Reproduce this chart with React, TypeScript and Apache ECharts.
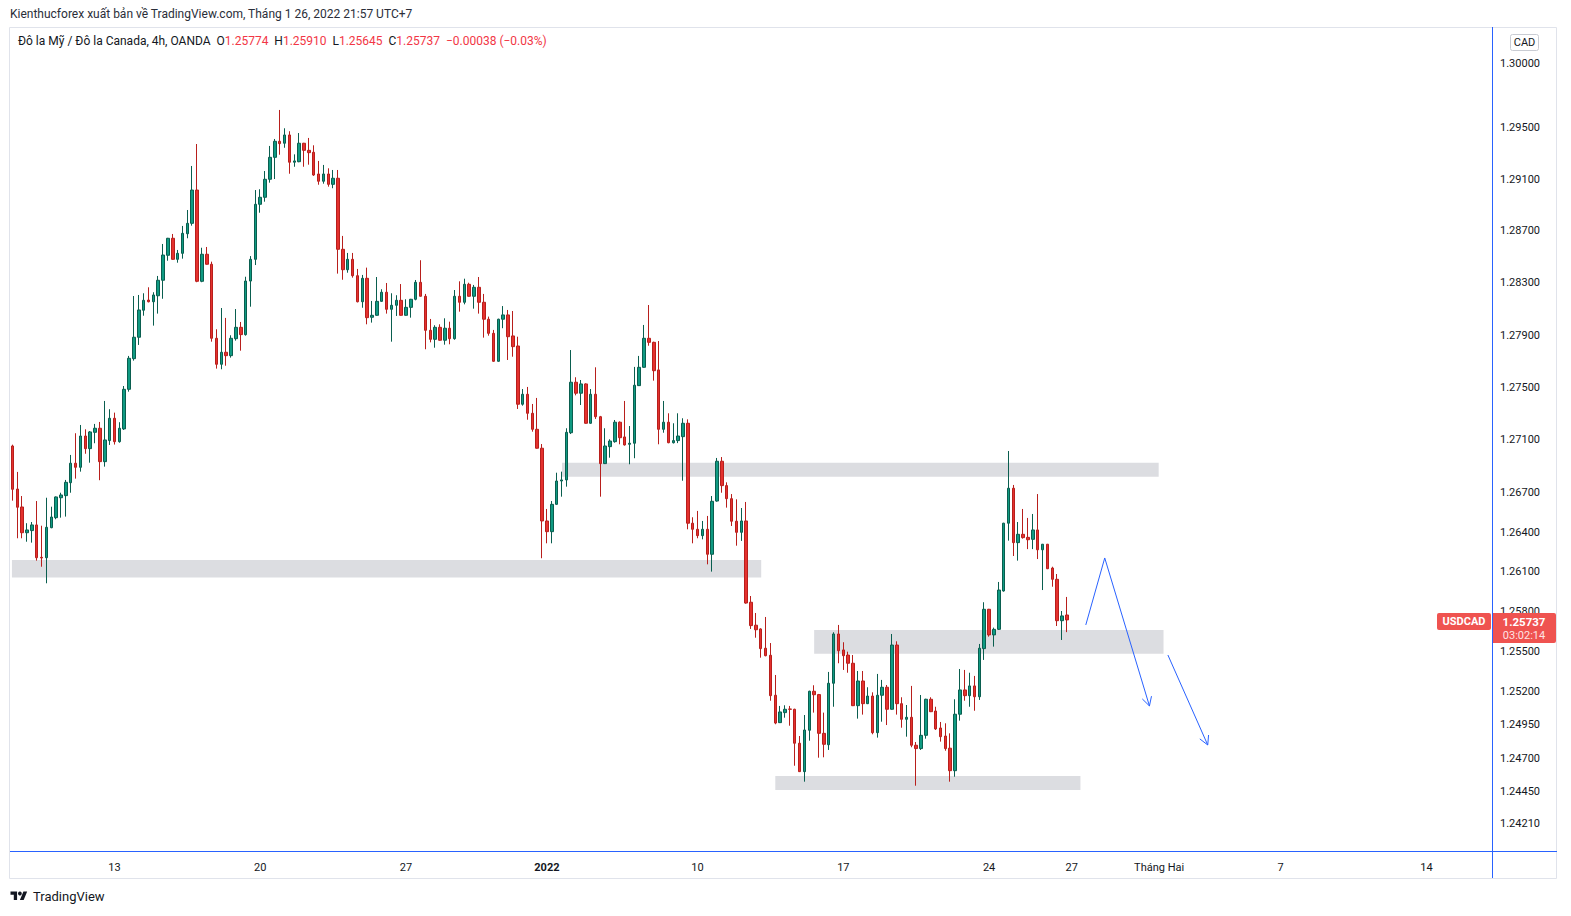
import React, { useEffect, useRef } from "react";
import * as echarts from "echarts";

// ---- OHLC data (USDCAD, 4h) ----
const OPEN = [
  1.27053, 1.26726, 1.2659, 1.26395, 1.26411, 1.26454, 1.26209, 1.26206, 1.26433, 1.26509,
  1.2666, 1.26676, 1.26774, 1.26922, 1.26891, 1.27129, 1.27033, 1.27157, 1.27188, 1.26934,
  1.27094, 1.27264, 1.27086, 1.27183, 1.27485, 1.27719, 1.27883, 1.2809, 1.28168, 1.28155,
  1.28201, 1.2832, 1.28512, 1.28643, 1.28481, 1.28527, 1.28678, 1.28758, 1.29015, 1.28312,
  1.2852, 1.28443, 1.27875, 1.27676, 1.27768, 1.27742, 1.27872, 1.27959, 1.27903, 1.28314,
  1.28481, 1.28905, 1.28959, 1.29098, 1.29268, 1.29392, 1.29377, 1.29441, 1.2923, 1.29234,
  1.29377, 1.29322, 1.29307, 1.29139, 1.29083, 1.29139, 1.29059, 1.29106, 1.28558, 1.28401,
  1.28481, 1.28355, 1.28155, 1.28335, 1.28036, 1.28051, 1.28158, 1.28228, 1.28097, 1.28128,
  1.28166, 1.28051, 1.28112, 1.28174, 1.28304, 1.28197, 1.27936, 1.27867, 1.27959, 1.2786,
  1.27952, 1.27872, 1.28197, 1.28151, 1.28289, 1.28197, 1.28266, 1.28151, 1.28021, 1.27913,
  1.27699, 1.28021, 1.28054, 1.27893, 1.27816, 1.27371, 1.27447, 1.27302, 1.2718, 1.27036,
  1.26484, 1.26403, 1.2661, 1.26787, 1.26795, 1.27154, 1.27539, 1.27455, 1.27526, 1.27226,
  1.27447, 1.27276, 1.26919, 1.27048, 1.27086, 1.27234, 1.27122, 1.27066, 1.27074, 1.27513,
  1.27653, 1.27875, 1.27844, 1.27633, 1.2718, 1.27234, 1.27078, 1.27094, 1.27124, 1.27226,
  1.26467, 1.26421, 1.26373, 1.26421, 1.26232, 1.26635, 1.26937, 1.26752, 1.26653, 1.26482,
  1.26398, 1.26484, 1.2587, 1.25697, 1.25669, 1.25524, 1.25471, 1.25171, 1.24966, 1.25041,
  1.25068, 1.25066, 1.24812, 1.246, 1.24909, 1.25201, 1.25176, 1.24886, 1.24801, 1.25261,
  1.25631, 1.25511, 1.25473, 1.25411, 1.25093, 1.25278, 1.25108, 1.25165, 1.24891, 1.25171,
  1.25231, 1.25066, 1.25548, 1.25108, 1.24991, 1.25006, 1.24797, 1.24772, 1.24871, 1.25141,
  1.25053, 1.24926, 1.24866, 1.24775, 1.24607, 1.25029, 1.25211, 1.25168, 1.25241, 1.2516,
  1.25521, 1.25817, 1.25624, 1.25666, 1.25955, 1.26467, 1.26732, 1.2632, 1.26383, 1.2636,
  1.26345, 1.26416, 1.26266, 1.26308, 1.26128, 1.26043, 1.25731, 1.25774,
];
const HIGH = [
  1.27063, 1.26856, 1.26673, 1.26467, 1.26476, 1.26635, 1.26448, 1.2666, 1.26592, 1.2667,
  1.26698, 1.26795, 1.26985, 1.2715, 1.27213, 1.2718, 1.27167, 1.27221, 1.27236, 1.27396,
  1.27333, 1.27307, 1.27234, 1.2751, 1.2774, 1.28199, 1.28207, 1.2822, 1.28266, 1.28228,
  1.28353, 1.28599, 1.28646, 1.28676, 1.28553, 1.28738, 1.28861, 1.29201, 1.29371, 1.2857,
  1.28576, 1.28463, 1.27944, 1.28107, 1.28031, 1.27898, 1.28099, 1.28, 1.28347, 1.28506,
  1.29015, 1.29021, 1.29162, 1.29356, 1.2941, 1.29635, 1.29493, 1.2947, 1.29291, 1.29456,
  1.2938, 1.29418, 1.29361, 1.2924, 1.29209, 1.29183, 1.2917, 1.2917, 1.28661, 1.2853,
  1.2853, 1.28407, 1.28361, 1.28417, 1.28161, 1.28345, 1.28251, 1.28299, 1.2822, 1.28205,
  1.28291, 1.28174, 1.28177, 1.28322, 1.28474, 1.28215, 1.28023, 1.27975, 1.27982, 1.28028,
  1.28002, 1.28245, 1.28312, 1.28332, 1.28301, 1.28284, 1.28345, 1.28215, 1.28041, 1.27939,
  1.28025, 1.28122, 1.28092, 1.28084, 1.27887, 1.27487, 1.27503, 1.27373, 1.27419, 1.27068,
  1.26575, 1.26635, 1.2685, 1.26858, 1.27188, 1.27785, 1.27577, 1.27556, 1.27531, 1.27487,
  1.27653, 1.27282, 1.27188, 1.27104, 1.27251, 1.2724, 1.27396, 1.27205, 1.27656, 1.2774,
  1.27977, 1.2813, 1.27849, 1.27854, 1.27396, 1.27302, 1.27226, 1.27302, 1.27264, 1.27256,
  1.26512, 1.2656, 1.26484, 1.26522, 1.26673, 1.26962, 1.26969, 1.26777, 1.26688, 1.26648,
  1.26582, 1.26628, 1.25917, 1.25789, 1.25674, 1.25759, 1.25563, 1.25323, 1.25091, 1.25096,
  1.25091, 1.2507, 1.24866, 1.25023, 1.25205, 1.25246, 1.25181, 1.25041, 1.25346, 1.25644,
  1.25699, 1.25569, 1.25498, 1.25473, 1.25353, 1.25353, 1.25231, 1.25193, 1.25331, 1.25286,
  1.25248, 1.25631, 1.25576, 1.25156, 1.25098, 1.25241, 1.24821, 1.25173, 1.25145, 1.25156,
  1.25085, 1.24971, 1.24961, 1.24886, 1.25141, 1.25368, 1.25361, 1.2534, 1.25316, 1.25556,
  1.2587, 1.2582, 1.25679, 1.26023, 1.2647, 1.27015, 1.26757, 1.26476, 1.26575, 1.26507,
  1.26537, 1.26688, 1.2631, 1.2631, 1.26138, 1.26083, 1.25804, 1.2591,
];
const LOW = [
  1.26638, 1.26353, 1.26353, 1.26327, 1.2632, 1.26184, 1.26138, 1.26013, 1.26429, 1.26497,
  1.26509, 1.26517, 1.26698, 1.26805, 1.26858, 1.26994, 1.26926, 1.27074, 1.26793, 1.26896,
  1.27061, 1.27064, 1.27078, 1.27175, 1.27467, 1.27704, 1.27824, 1.28048, 1.2815, 1.27972,
  1.28064, 1.28178, 1.2847, 1.28478, 1.28455, 1.28486, 1.28643, 1.2874, 1.28305, 1.28305,
  1.2844, 1.27849, 1.27643, 1.27638, 1.27665, 1.27727, 1.27857, 1.2778, 1.27895, 1.28117,
  1.28437, 1.2884, 1.28925, 1.29072, 1.291, 1.29288, 1.29342, 1.29141, 1.29195, 1.2923,
  1.29195, 1.29211, 1.29124, 1.29056, 1.29064, 1.29041, 1.29029, 1.28371, 1.28324, 1.28378,
  1.2834, 1.2815, 1.28109, 1.27982, 1.27995, 1.28048, 1.28155, 1.28064, 1.27849, 1.28046,
  1.28048, 1.28048, 1.28033, 1.28166, 1.28195, 1.27791, 1.27844, 1.27803, 1.27857, 1.27826,
  1.27829, 1.27864, 1.28079, 1.28135, 1.28194, 1.28102, 1.28064, 1.2788, 1.27895, 1.27695,
  1.27695, 1.27952, 1.27709, 1.27734, 1.27335, 1.2736, 1.27253, 1.27162, 1.27033, 1.26202,
  1.26315, 1.26315, 1.26607, 1.26668, 1.26744, 1.27144, 1.27439, 1.27365, 1.27223, 1.27223,
  1.27259, 1.26668, 1.26916, 1.26964, 1.27078, 1.27066, 1.27056, 1.26914, 1.2696, 1.2751,
  1.2765, 1.27818, 1.27551, 1.27066, 1.27154, 1.27074, 1.27072, 1.27075, 1.26789, 1.26421,
  1.26315, 1.26353, 1.26345, 1.26156, 1.26101, 1.2663, 1.26698, 1.26585, 1.26446, 1.26297,
  1.26333, 1.25859, 1.25669, 1.25603, 1.25453, 1.25463, 1.2513, 1.24954, 1.24963, 1.25003,
  1.24943, 1.24644, 1.24597, 1.24525, 1.24831, 1.25041, 1.24704, 1.24707, 1.24762, 1.25085,
  1.25411, 1.25361, 1.2534, 1.2509, 1.24996, 1.25026, 1.25105, 1.24879, 1.24854, 1.24973,
  1.24948, 1.25063, 1.25026, 1.24928, 1.24861, 1.24782, 1.24495, 1.24762, 1.24846, 1.25045,
  1.24911, 1.24824, 1.24756, 1.24525, 1.24562, 1.24981, 1.2513, 1.25085, 1.25055, 1.25136,
  1.25436, 1.25611, 1.25536, 1.25661, 1.2595, 1.26335, 1.26219, 1.26184, 1.2635, 1.26271,
  1.26271, 1.26196, 1.25962, 1.2612, 1.25987, 1.25691, 1.25586, 1.25645,
];
const CLOSE = [
  1.26724, 1.26588, 1.26395, 1.26416, 1.26454, 1.26206, 1.26204, 1.26436, 1.26514, 1.26666,
  1.26681, 1.26777, 1.26922, 1.26891, 1.27129, 1.27033, 1.2716, 1.27188, 1.26934, 1.27099,
  1.27264, 1.27086, 1.27188, 1.27485, 1.27722, 1.27883, 1.28092, 1.28166, 1.28155, 1.28207,
  1.2832, 1.28514, 1.28643, 1.28481, 1.28527, 1.28681, 1.28758, 1.29015, 1.28312, 1.2852,
  1.28443, 1.27875, 1.27676, 1.27768, 1.27742, 1.27875, 1.27959, 1.27903, 1.28314, 1.28481,
  1.28905, 1.28959, 1.29098, 1.29268, 1.29392, 1.29374, 1.29441, 1.2923, 1.2924, 1.29377,
  1.29322, 1.29304, 1.29131, 1.29083, 1.29139, 1.29059, 1.29106, 1.28558, 1.28401, 1.28481,
  1.28355, 1.28155, 1.28335, 1.28033, 1.28051, 1.28158, 1.28228, 1.28097, 1.28128, 1.28166,
  1.28051, 1.28112, 1.28174, 1.28304, 1.28197, 1.27936, 1.27867, 1.27959, 1.2786, 1.27952,
  1.27872, 1.28197, 1.28151, 1.28289, 1.28197, 1.28266, 1.28151, 1.28021, 1.27913, 1.27699,
  1.28021, 1.28054, 1.27887, 1.27811, 1.27371, 1.27447, 1.27302, 1.2718, 1.27036, 1.26484,
  1.26403, 1.2661, 1.26787, 1.26795, 1.27157, 1.27539, 1.27455, 1.27526, 1.27226, 1.27447,
  1.27276, 1.26919, 1.27053, 1.27091, 1.27234, 1.27116, 1.27061, 1.27074, 1.27516, 1.27653,
  1.27875, 1.27844, 1.27627, 1.2718, 1.27234, 1.27078, 1.27094, 1.27129, 1.27226, 1.26467,
  1.26421, 1.26373, 1.26421, 1.26232, 1.26633, 1.26937, 1.26752, 1.26653, 1.26482, 1.26398,
  1.26484, 1.25864, 1.25694, 1.25663, 1.25521, 1.25468, 1.25168, 1.24963, 1.25046, 1.25066,
  1.25066, 1.24812, 1.246, 1.24911, 1.25201, 1.25175, 1.24886, 1.24804, 1.25261, 1.25631,
  1.25505, 1.25468, 1.25411, 1.25093, 1.25278, 1.25108, 1.25165, 1.24891, 1.25171, 1.25231,
  1.25066, 1.25548, 1.25108, 1.24991, 1.25006, 1.24797, 1.24772, 1.24871, 1.25141, 1.25048,
  1.24919, 1.24861, 1.24772, 1.24607, 1.25029, 1.25211, 1.25168, 1.25241, 1.2516, 1.25524,
  1.25817, 1.25624, 1.25666, 1.25962, 1.26467, 1.26732, 1.2632, 1.26383, 1.26358, 1.26342,
  1.26416, 1.26266, 1.26308, 1.26123, 1.26043, 1.25731, 1.25767, 1.25737,
];

// time axis: bar slots (past + future space) and date labels
const SLOT_COUNT = 305;
const DATE_TICK_INDEX = [21, 51, 81, 110, 141, 171, 201, 218, 236, 261, 291];
const DATE_TICK_TEXT = ["13", "20", "27", "2022", "10", "17", "24", "27", "Tháng Hai", "7", "14"];

// price axis (log scale) labels and range
const PRICE_TICKS = [
  1.3, 1.295, 1.291, 1.287, 1.283, 1.279, 1.275, 1.271, 1.267, 1.264, 1.261, 1.258, 1.255,
  1.252, 1.2495, 1.247, 1.2445, 1.2421,
];
const PRICE_MIN = 1.240093;
const PRICE_MAX = 1.302727;

// support / resistance zones (bar index range, price range)
const ZONE_X0 = [-0.1, 113.1, 165.0, 157.0];
const ZONE_X1 = [154.1, 235.9, 236.9, 219.8];
const ZONE_TOP = [1.26189, 1.26926, 1.25661, 1.24568];
const ZONE_BOTTOM = [1.26057, 1.2682, 1.25483, 1.24463];

// projection arrows (segments)
const ARROW_X0 = [220.9, 224.8, 237.8];
const ARROW_P0 = [1.25699, 1.26204, 1.25473];
const ARROW_X1 = [224.8, 234.0, 246.0];
const ARROW_P1 = [1.26204, 1.25091, 1.24799];
const ARROW_HEAD = [0, 1, 1];

const LAST = { o: "1.25774", h: "1.25910", l: "1.25645", c: "1.25737", chg: "−0.00038 (−0.03%)" };

const FONT = 'Roboto, "Noto Sans", "DejaVu Sans", sans-serif';
const NARROW = '"Liberation Sans Narrow", "Arial Narrow", Roboto, sans-serif';
const TEXT = "#131722";
const RED = "#f23645";
const LABEL_RED = "#ef5350";
const BLUE = "#2962ff";

const LOGO_D = "M14 22H7V11H0V4h14v18zM28 22h-8l7.5-18h8L28 22z";
let logoRegistered = false;

export default function App() {
  const ref = useRef<HTMLDivElement | null>(null);

  useEffect(() => {
    if (!ref.current) return;
    if (!logoRegistered) {
      echarts.graphic.registerShape("tvlogo", echarts.graphic.extendPath(LOGO_D, {}) as any);
      logoRegistered = true;
    }
    const chart = echarts.init(ref.current, null, { renderer: "svg" });

    const cats = Array.from({ length: SLOT_COUNT }, (_, i) => String(i));
    const candles = OPEN.map((o, i) => [
      Math.log(o),
      Math.log(CLOSE[i]),
      Math.log(LOW[i]),
      Math.log(HIGH[i]),
    ]);
    const zones = ZONE_X0.map((x, i) => [x, ZONE_X1[i], Math.log(ZONE_TOP[i]), Math.log(ZONE_BOTTOM[i])]);
    const arrows = ARROW_X0.map((x, i) => [x, Math.log(ARROW_P0[i]), ARROW_X1[i], Math.log(ARROW_P1[i]), ARROW_HEAD[i]]);

    const gridLeft = 10;
    const gridRight = 1492;
    const gridTop = 28;
    const gridBottom = 851;

    const legendText =
      `{n|Đô la Mỹ / Đô la Canada, 4h, OANDA}  ` +
      `{k|O}{r|${LAST.o}}  {k|H}{r|${LAST.h}}  {k|L}{r|${LAST.l}}  {k|C}{r|${LAST.c}}  {r|${LAST.chg}}`;

    const option: any = {
      animation: false,
      backgroundColor: "#ffffff",
      textStyle: { fontFamily: FONT },
      grid: {
        left: gridLeft,
        top: gridTop,
        width: gridRight - gridLeft,
        height: gridBottom - gridTop,
        containLabel: false,
      },
      xAxis: [
        {
          type: "category",
          data: cats,
          boundaryGap: true,
          axisLine: { show: false },
          axisTick: { show: false },
          splitLine: { show: false },
          axisLabel: {
            interval: (index: number) => DATE_TICK_INDEX.indexOf(index) >= 0,
            formatter: (value: string) => {
              const k = DATE_TICK_INDEX.indexOf(Number(value));
              const t = k >= 0 ? DATE_TICK_TEXT[k] : "";
              return t === "2022" ? "{b|2022}" : t;
            },
            color: TEXT,
            fontSize: 11,
            fontFamily: FONT,
            margin: 11,
            rich: { b: { fontWeight: "bold", fontSize: 11, color: TEXT, fontFamily: FONT } },
          },
        },
        {
          type: "value",
          min: -0.5,
          max: SLOT_COUNT - 0.5,
          show: false,
        },
      ],
      yAxis: {
        type: "value",
        position: "right",
        min: Math.log(PRICE_MIN),
        max: Math.log(PRICE_MAX),
        scale: true,
        axisLine: { show: false },
        axisTick: { show: false },
        splitLine: { show: false },
        axisLabel: {
          customValues: PRICE_TICKS.map((p) => Math.log(p)),
          formatter: (v: number) => Math.exp(v).toFixed(5),
          color: TEXT,
          fontSize: 11,
          fontFamily: FONT,
          margin: 8,
        },
      },
      series: [
        {
          type: "custom",
          name: "zones",
          xAxisIndex: 1,
          yAxisIndex: 0,
          z: 1,
          clip: false,
          silent: true,
          encode: { x: [0, 1], y: [2, 3] },
          data: zones,
          renderItem: (_p: any, api: any) => {
            const a = api.coord([api.value(0), api.value(2)]);
            const b = api.coord([api.value(1), api.value(3)]);
            return {
              type: "rect",
              shape: { x: a[0], y: a[1], width: b[0] - a[0], height: b[1] - a[1] },
              style: { fill: "#dcdde1" },
            };
          },
        },
        {
          type: "candlestick",
          name: "USDCAD",
          xAxisIndex: 0,
          yAxisIndex: 0,
          z: 2,
          barWidth: 3,
          data: candles,
          itemStyle: {
            color: "#0f9a82",
            borderColor: "#0a5e4f",
            color0: "#e4312e",
            borderColor0: "#b81f1c",
            borderWidth: 1,
          },
        },
        {
          type: "custom",
          name: "arrows",
          xAxisIndex: 1,
          yAxisIndex: 0,
          z: 3,
          clip: false,
          silent: true,
          encode: { x: [0, 2], y: [1, 3] },
          data: arrows,
          renderItem: (_p: any, api: any) => {
            const p0 = api.coord([api.value(0), api.value(1)]);
            const p1 = api.coord([api.value(2), api.value(3)]);
            const children: any[] = [
              {
                type: "line",
                shape: { x1: p0[0], y1: p0[1], x2: p1[0], y2: p1[1] },
                style: { stroke: BLUE, lineWidth: 1 },
              },
            ];
            if (api.value(4)) {
              const ang = Math.atan2(p1[1] - p0[1], p1[0] - p0[0]);
              const L = 10;
              [-0.5, 0.5].forEach((d) => {
                children.push({
                  type: "line",
                  shape: {
                    x1: p1[0],
                    y1: p1[1],
                    x2: p1[0] - L * Math.cos(ang + d),
                    y2: p1[1] - L * Math.sin(ang + d),
                  },
                  style: { stroke: BLUE, lineWidth: 1 },
                });
              });
            }
            return { type: "group", children };
          },
        },
      ],
      graphic: [
        // outer frame
        {
          type: "rect",
          z: 50,
          silent: true,
          shape: { x: 9.5, y: 27.5, width: 1547, height: 851 },
          style: { fill: "none", stroke: "#e0e3eb", lineWidth: 1 },
        },
        // axis separators
        {
          type: "line",
          z: 51,
          silent: true,
          shape: { x1: 10, y1: 851.5, x2: 1557, y2: 851.5 },
          style: { stroke: BLUE, lineWidth: 1 },
        },
        {
          type: "line",
          z: 51,
          silent: true,
          shape: { x1: 1492.5, y1: 27, x2: 1492.5, y2: 878 },
          style: { stroke: BLUE, lineWidth: 1 },
        },
        // header
        {
          type: "text",
          z: 60,
          x: 10,
          y: 14,
          style: {
            text: "Kienthucforex xuất bản về TradingView.com, Tháng 1 26, 2022 21:57 UTC+7",
            fill: "#2a2e39",
            font: `12px ${FONT}`,
            verticalAlign: "middle",
          },
        },
        // legend (symbol + OHLC)
        {
          type: "text",
          z: 60,
          x: 18,
          y: 41,
          style: {
            text: legendText,
            fill: TEXT,
            font: `12px ${NARROW}`,
            verticalAlign: "middle",
            rich: {
              n: { fill: TEXT, font: `12px ${FONT}` },
              k: { fill: TEXT, font: `12px ${NARROW}` },
              r: { fill: RED, font: `12px ${NARROW}` },
            },
          },
        },
        // currency box
        {
          type: "rect",
          z: 60,
          shape: { x: 1510.5, y: 34.5, width: 28, height: 16, r: 2 },
          style: { fill: "#ffffff", stroke: "#c9ccd3", lineWidth: 1 },
        },
        {
          type: "text",
          z: 61,
          x: 1524.5,
          y: 42.5,
          style: { text: "CAD", fill: TEXT, font: `11px ${FONT}`, align: "center", verticalAlign: "middle" },
        },
        // last price labels
        {
          type: "rect",
          z: 70,
          shape: { x: 1437, y: 613, width: 54, height: 17, r: 2 },
          style: { fill: LABEL_RED },
        },
        {
          type: "text",
          z: 71,
          x: 1464,
          y: 621.5,
          style: {
            text: "USDCAD",
            fill: "#ffffff",
            font: `bold 11px ${FONT}`,
            align: "center",
            verticalAlign: "middle",
          },
        },
        {
          type: "rect",
          z: 70,
          shape: { x: 1493, y: 613, width: 63, height: 30, r: [0, 2, 2, 0] },
          style: { fill: LABEL_RED },
        },
        {
          type: "text",
          z: 71,
          x: 1524,
          y: 621.5,
          style: {
            text: "1.25737",
            fill: "#ffffff",
            font: `bold 11.5px ${FONT}`,
            align: "center",
            verticalAlign: "middle",
          },
        },
        {
          type: "text",
          z: 71,
          x: 1524,
          y: 635,
          style: {
            text: "03:02:14",
            fill: "#fde3e3",
            font: `11px ${FONT}`,
            align: "center",
            verticalAlign: "middle",
          },
        },
        // TradingView brand
        {
          type: "tvlogo",
          z: 60,
          x: 10.5,
          y: 889.7,
          scaleX: 0.47,
          scaleY: 0.47,
          style: { fill: TEXT },
        },
        {
          type: "circle",
          z: 60,
          shape: { cx: 19.9, cy: 893.5, r: 1.9 },
          style: { fill: TEXT },
        },
        {
          type: "text",
          z: 60,
          x: 33,
          y: 896,
          style: { text: "TradingView", fill: TEXT, font: `13px ${FONT}`, verticalAlign: "middle" },
        },
      ],
    };

    chart.setOption(option);
    return () => {
      chart.dispose();
    };
  }, []);

  return (
    <div
      ref={ref}
      style={{ position: "fixed", left: 0, top: 0, width: 1571, height: 916, background: "#fff" }}
    />
  );
}
